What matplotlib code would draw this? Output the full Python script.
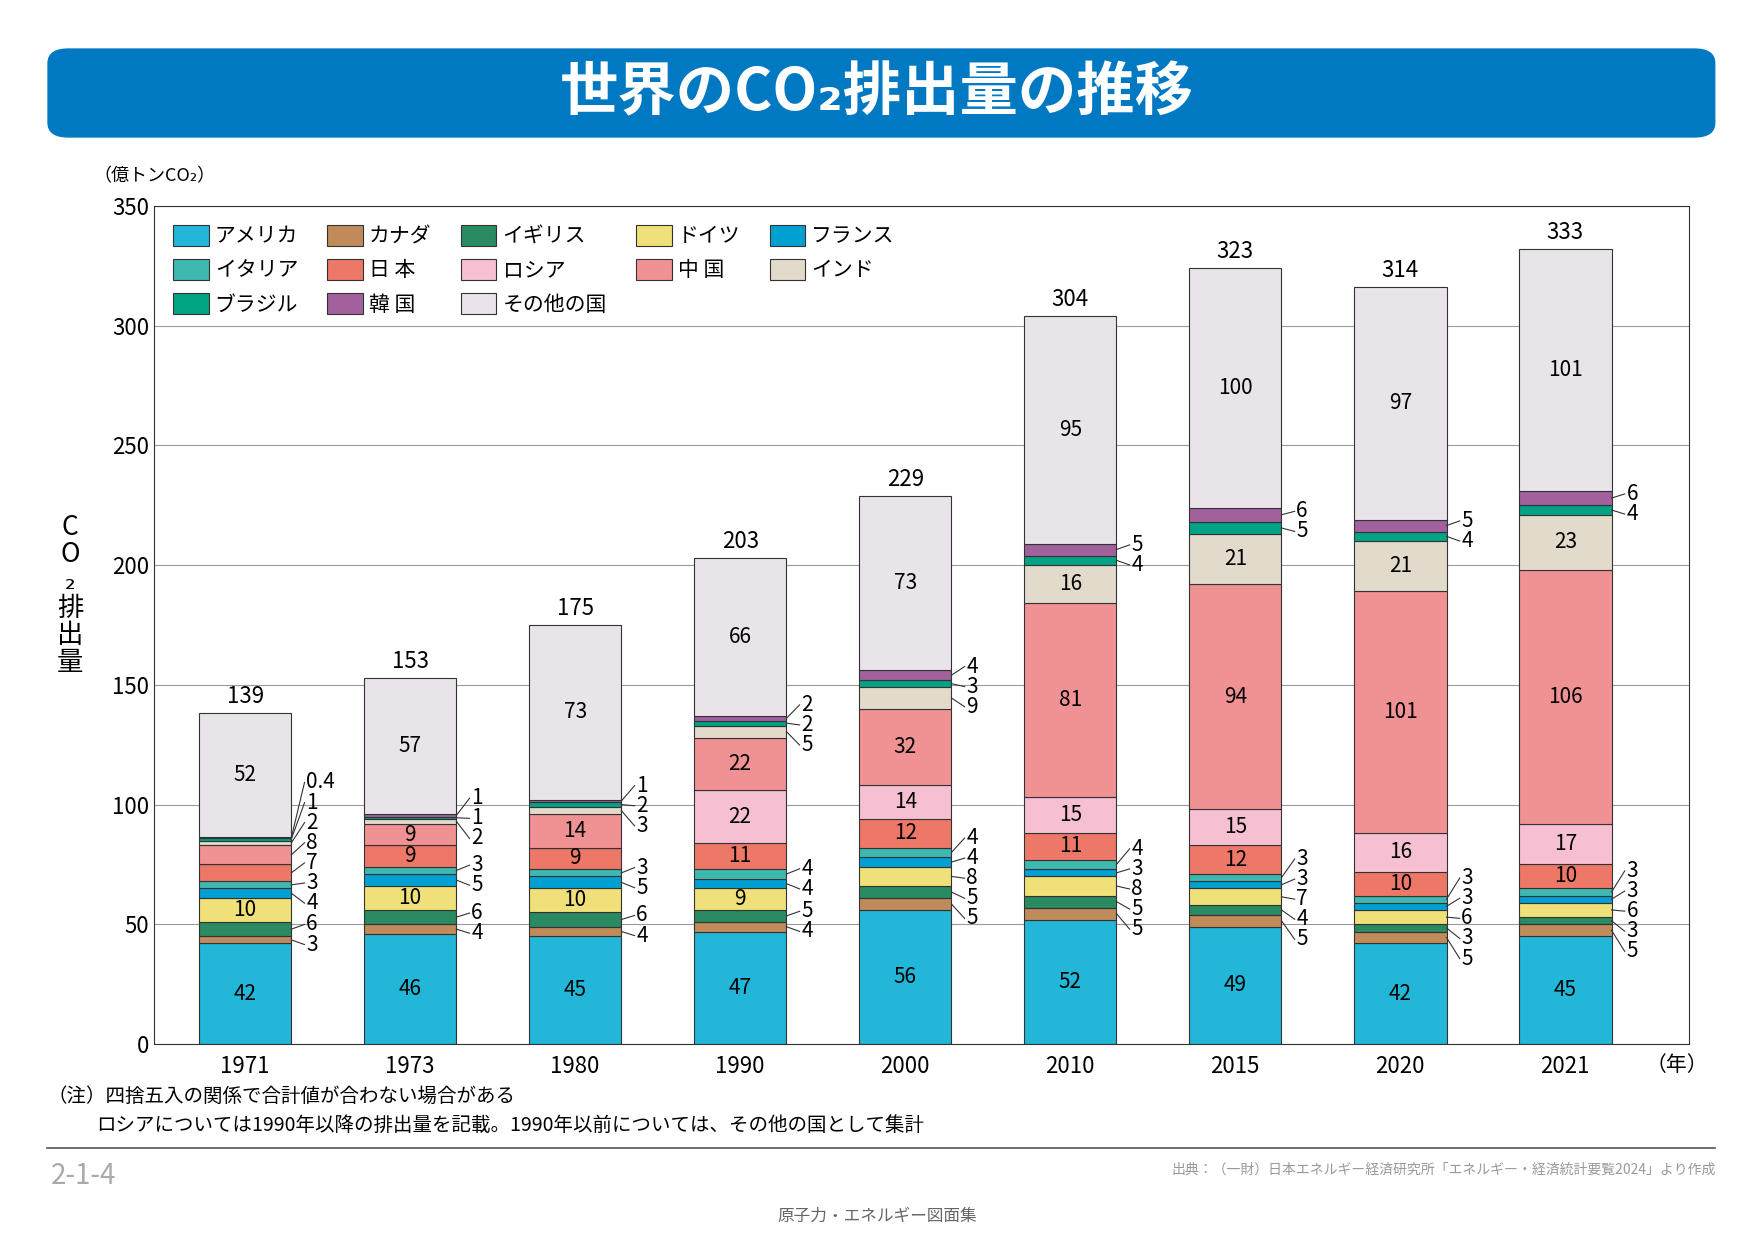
import matplotlib
matplotlib.use("Agg")
import matplotlib.pyplot as plt
from matplotlib.patches import FancyBboxPatch, Patch
import numpy as np

plt.rcParams['font.family'] = ['Noto Sans CJK JP', 'DejaVu Sans']

years = ["1971", "1973", "1980", "1990", "2000", "2010", "2015", "2020", "2021"]
totals = [139, 153, 175, 203, 229, 304, 323, 314, 333]
names = ["アメリカ", "カナダ", "イギリス", "ドイツ", "フランス", "イタリア", "日本",
         "ロシア", "中国", "インド", "ブラジル", "韓国", "その他の国"]
legend_names = ["アメリカ", "カナダ", "イギリス", "ドイツ", "フランス", "イタリア", "日 本",
                "ロシア", "中 国", "インド", "ブラジル", "韓 国", "その他の国"]
colors = ["#22b6d9", "#c08a5a", "#2a8a62", "#efe07a", "#00a1d2", "#3fb8b0", "#ee7868",
          "#f6c0d2", "#f09294", "#e2dacb", "#00a384", "#a2609c", "#e9e4ea"]

usa     = [42, 46, 45, 47, 56, 52, 49, 42, 45]
canada  = [3, 4, 4, 4, 5, 5, 5, 5, 5]
uk      = [6, 6, 6, 5, 5, 5, 4, 3, 3]
germany = [10, 10, 10, 9, 8, 8, 7, 6, 6]
france  = [4, 5, 5, 4, 4, 3, 3, 3, 3]
italy   = [3, 3, 3, 4, 4, 4, 3, 3, 3]
japan   = [7, 9, 9, 11, 12, 11, 12, 10, 10]
russia  = [0, 0, 0, 22, 14, 15, 15, 16, 17]
china   = [8, 9, 14, 22, 32, 81, 94, 101, 106]
india   = [2, 2, 3, 5, 9, 16, 21, 21, 23]
brazil  = [1, 1, 2, 2, 3, 4, 5, 4, 4]
korea   = [0.4, 1, 1, 2, 4, 5, 6, 5, 6]
others  = [52, 57, 73, 66, 73, 95, 100, 97, 101]
series = [usa, canada, uk, germany, france, italy, japan, russia, china, india, brazil, korea, others]

fig = plt.figure(figsize=(17.54, 12.4), dpi=100)

# title band
fig.patches.append(FancyBboxPatch((0.027, 0.889), 0.951, 0.072, boxstyle="round,pad=0,rounding_size=0.012",
                                  transform=fig.transFigure, facecolor="#0079c2", edgecolor="none"))
fig.text(0.5, 0.925, "世界のCO₂排出量の推移", color="white", fontsize=42, fontweight="bold",
         ha="center", va="center")

ax = fig.add_axes([0.088, 0.158, 0.875, 0.676])
x = np.arange(len(years))
w = 0.56
bottom = np.zeros(len(years))
outside = [[] for _ in years]
for k, (vals, c) in enumerate(zip(series, colors)):
    vals = np.array(vals, dtype=float)
    ax.bar(x, vals, w, bottom=bottom, color=c, edgecolor="#333333", linewidth=0.8, zorder=2)
    for i, v in enumerate(vals):
        if v <= 0:
            continue
        cy = bottom[i] + v / 2
        inside = v >= 10 or (v == 9 and names[k] != "インド")
        if inside:
            ax.text(x[i], cy, f"{v:g}", ha="center", va="center", fontsize=15, zorder=3)
        else:
            outside[i].append((cy, v, k))
    bottom += vals

# outside labels with leader lines
gap = 8.4
for i, items in enumerate(outside):
    groups = []
    for it in items:
        if groups and it[2] == groups[-1][-1][2] + 1:
            groups[-1].append(it)
        else:
            groups.append([it])
    placed = []
    for g in groups:
        c = (g[0][0] + g[-1][0]) / 2
        n = len(g)
        for j, (cy, v, k) in enumerate(g):
            placed.append([c + (j - (n - 1) / 2) * gap, cy, v])
    for j in range(1, len(placed)):
        if placed[j][0] < placed[j - 1][0] + gap:
            placed[j][0] = placed[j - 1][0] + gap
    for ly, cy, v in placed:
        x0 = x[i] + w / 2
        ax.plot([x0, x0 + 0.08], [cy, ly], color="#333333", lw=0.8, zorder=3, clip_on=False)
        ax.text(x0 + 0.09, ly, f"{v:g}", ha="left", va="center", fontsize=15, zorder=3)

for i, t in enumerate(totals):
    ax.text(x[i], bottom[i] + 2, str(t), ha="center", va="bottom", fontsize=16)

ax.set_ylim(0, 350)
ax.set_xlim(-0.55, len(years) - 0.25)
ax.set_yticks(range(0, 351, 50))
ax.yaxis.grid(True, color="#999999", lw=0.8, zorder=0)
ax.set_axisbelow(True)
ax.set_xticks(x)
ax.set_xticklabels(years, fontsize=16)
ax.tick_params(axis="y", labelsize=16, length=0)
ax.tick_params(axis="x", length=0, pad=8)
for s in ax.spines.values():
    s.set_color("#333333")
ax.text(0.992, -0.025, "（年）", transform=ax.transAxes, fontsize=15, va="center", ha="center")
ax.text(-0.04, 1.025, "（億トンCO₂）", transform=ax.transAxes, fontsize=13, va="bottom")
fig.text(0.04, 0.52, "C\nO\n₂\n排\n出\n量", fontsize=19, ha="center", va="center", linespacing=1.0)

handles = [Patch(facecolor=c, edgecolor="#333333", lw=0.8) for c in colors]
order = []
for col in range(5):
    for row in range(3):
        idx = row * 5 + col
        if idx < len(names):
            order.append(idx)
ax.legend([handles[i] for i in order], [legend_names[i] for i in order], ncol=5, loc="upper left",
          frameon=False, fontsize=15, handlelength=1.7, handleheight=1.2, columnspacing=1.4,
          labelspacing=0.55, handletextpad=0.3, bbox_to_anchor=(0.0, 1.0))

fig.text(0.027, 0.111, "（注）四捨五入の関係で合計値が合わない場合がある", fontsize=14)
fig.text(0.055, 0.088, "ロシアについては1990年以降の排出量を記載。1990年以前については、その他の国として集計", fontsize=14)
fig.add_artist(plt.Line2D([0.027, 0.978], [0.074, 0.074], color="#555555", lw=1.2, transform=fig.transFigure))
fig.text(0.029, 0.052, "2-1-4", fontsize=20, color="#aaaaaa", va="center")
fig.text(0.978, 0.057, "出典：（一財）日本エネルギー経済研究所「エネルギー・経済統計要覧2024」より作成",
         fontsize=10, color="#999999", ha="right", va="center")
fig.text(0.5, 0.019, "原子力・エネルギー図面集", fontsize=12, color="#666666", ha="center", va="center")

fig.savefig("out.png", dpi=100)
